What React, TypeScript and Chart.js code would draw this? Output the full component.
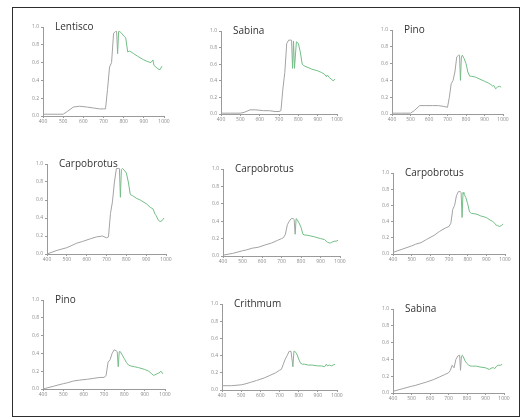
import React, { useEffect, useRef } from "react";
import { Chart, registerables } from "chart.js";

Chart.register(...registerables);

const WAVELENGTHS = [400, 450, 500, 520, 550, 580, 620, 650, 680, 700, 710, 720, 730, 740, 750, 760, 765, 770, 775, 780, 790, 800, 810, 820, 830, 850, 870, 900, 920, 935, 945, 950, 960, 970, 980, 990];

const X_TICKS = [400, 500, 600, 700, 800, 900, 1000];
const Y_TICKS = [0.0, 0.2, 0.4, 0.6, 0.8, 1.0];

const TITLES = ["Lentisco", "Sabina", "Pino", "Carpobrotus", "Carpobrotus", "Carpobrotus", "Pino", "Crithmum", "Sabina"];

const LENTISCO = [0.02, 0.02, 0.02, 0.05, 0.1, 0.11, 0.1, 0.09, 0.08, 0.08, 0.08, 0.3, 0.55, 0.6, 0.93, 0.95, 0.95, 0.7, 0.95, 0.95, 0.93, 0.9, 0.88, 0.72, 0.73, 0.7, 0.67, 0.63, 0.61, 0.6, 0.63, 0.57, 0.55, 0.53, 0.52, 0.56];
const SABINA_1 = [0.01, 0.01, 0.01, 0.02, 0.05, 0.05, 0.04, 0.04, 0.03, 0.03, 0.04, 0.3, 0.5, 0.85, 0.89, 0.89, 0.89, 0.55, 0.88, 0.55, 0.87, 0.85, 0.75, 0.6, 0.58, 0.56, 0.54, 0.52, 0.5, 0.48, 0.45, 0.47, 0.44, 0.42, 0.4, 0.42];
const PINO_1 = [0.01, 0.01, 0.01, 0.04, 0.1, 0.1, 0.1, 0.1, 0.09, 0.08, 0.2, 0.36, 0.4, 0.5, 0.68, 0.7, 0.7, 0.4, 0.68, 0.7, 0.66, 0.6, 0.5, 0.45, 0.45, 0.44, 0.42, 0.39, 0.37, 0.35, 0.33, 0.34, 0.3, 0.32, 0.33, 0.32];
const CARPOBROTUS_1 = [0.0, 0.04, 0.07, 0.09, 0.12, 0.14, 0.17, 0.19, 0.2, 0.18, 0.19, 0.45, 0.58, 0.8, 0.95, 0.95, 0.95, 0.63, 0.94, 0.95, 0.93, 0.9, 0.8, 0.66, 0.65, 0.62, 0.6, 0.56, 0.52, 0.5, 0.44, 0.43, 0.38, 0.36, 0.37, 0.4];
const CARPOBROTUS_2 = [0.01, 0.03, 0.06, 0.07, 0.09, 0.1, 0.13, 0.15, 0.18, 0.2, 0.21, 0.25, 0.36, 0.4, 0.43, 0.43, 0.42, 0.25, 0.43, 0.42, 0.38, 0.33, 0.25, 0.24, 0.24, 0.23, 0.22, 0.2, 0.19, 0.16, 0.15, 0.15, 0.16, 0.17, 0.17, 0.18];
const CARPOBROTUS_3 = [0.02, 0.06, 0.1, 0.12, 0.14, 0.18, 0.23, 0.28, 0.32, 0.34, 0.38, 0.55, 0.6, 0.72, 0.77, 0.77, 0.76, 0.45, 0.76, 0.74, 0.7, 0.62, 0.52, 0.5, 0.5, 0.49, 0.47, 0.45, 0.42, 0.4, 0.38, 0.36, 0.35, 0.34, 0.35, 0.37];
const PINO_2 = [0.0, 0.03, 0.06, 0.07, 0.09, 0.1, 0.11, 0.12, 0.13, 0.13, 0.15, 0.3, 0.33, 0.4, 0.44, 0.43, 0.42, 0.25, 0.42, 0.42, 0.38, 0.34, 0.3, 0.27, 0.26, 0.25, 0.24, 0.22, 0.2, 0.17, 0.15, 0.16, 0.17, 0.18, 0.2, 0.17];
const CRITHMUM = [0.05, 0.05, 0.06, 0.07, 0.09, 0.11, 0.14, 0.17, 0.2, 0.23, 0.24, 0.3, 0.36, 0.4, 0.45, 0.45, 0.45, 0.27, 0.45, 0.45, 0.42, 0.36, 0.31, 0.3, 0.3, 0.29, 0.29, 0.28, 0.28, 0.27, 0.3, 0.28, 0.29, 0.28, 0.29, 0.3];
const SABINA_2 = [0.02, 0.05, 0.08, 0.09, 0.11, 0.13, 0.16, 0.19, 0.22, 0.24, 0.27, 0.33, 0.3, 0.4, 0.44, 0.45, 0.27, 0.44, 0.45, 0.43, 0.38, 0.35, 0.33, 0.32, 0.32, 0.32, 0.31, 0.3, 0.28, 0.3, 0.3, 0.29, 0.32, 0.33, 0.33, 0.34];

const SERIES = [LENTISCO, SABINA_1, PINO_1, CARPOBROTUS_1, CARPOBROTUS_2, CARPOBROTUS_3, PINO_2, CRITHMUM, SABINA_2];

// plot-area placement of each panel: [axis left, axis right, top (1.0), bottom (0.0)]
const PLACES = [
  [43, 164, 27, 116],
  [221, 337, 31, 114],
  [392, 503, 30, 114],
  [47, 166, 164, 254],
  [223, 340, 169, 256],
  [393, 505, 173, 254],
  [43, 165, 300, 389],
  [222, 337, 304, 390],
  [393, 504, 309, 393],
];

const PAD_L = 30;
const PAD_R = 12;
const PAD_T = 14;
const PAD_B = 18;

const GRAY = "#a3a3a3";
const GREEN = "#72bf86";
const AXIS = "#9a9a9a";

function Panel({ index }: { index: number }) {
  const ref = useRef<HTMLCanvasElement | null>(null);
  const [l, r, t, b] = PLACES[index];
  const w = r - l + PAD_L + PAD_R;
  const h = b - t + PAD_T + PAD_B;

  useEffect(() => {
    if (!ref.current) return;
    const title = TITLES[index];
    const values = SERIES[index];
    const titlePlugin = {
      id: "panelTitle",
      afterDraw(chart: any) {
        const ctx = chart.ctx;
        ctx.save();
        ctx.font = "10px 'Open Sans'";
        ctx.fillStyle = "#333333";
        ctx.textBaseline = "middle";
        ctx.textAlign = "left";
        ctx.fillText(title, chart.chartArea.left + 12, chart.chartArea.top + 0.5);
        ctx.restore();
      },
    };
    const chart = new Chart(ref.current, {
      type: "line",
      data: {
        datasets: [
          {
            data: WAVELENGTHS.map((x, i) => ({ x, y: values[i] })),
            borderColor: GRAY,
            borderWidth: 1,
            pointRadius: 0,
            tension: 0,
            segment: {
              borderColor: (c: any) => (c.p0.parsed.x >= 770 ? GREEN : GRAY),
            },
          },
        ],
      },
      options: {
        animation: false,
        responsive: false,
        maintainAspectRatio: false,
        events: [],
        layout: {
          autoPadding: false,
          padding: { left: 0, right: PAD_R, top: PAD_T, bottom: 0 },
        },
        plugins: { legend: { display: false }, tooltip: { enabled: false }, title: { display: false } },
        scales: {
          x: {
            type: "linear",
            min: 400,
            max: 1000,
            afterFit: (s: any) => {
              s.height = PAD_B;
            },
            afterBuildTicks: (s: any) => {
              s.ticks = X_TICKS.map((v) => ({ value: v }));
            },
            ticks: {
              color: "#8a8a8a",
              font: { size: 5, family: "'Open Sans'" },
              padding: 1,
              maxRotation: 0,
              autoSkip: false,
              callback: (v: any) => String(v),
            },
            grid: { display: true, drawOnChartArea: false, drawTicks: true, tickLength: 2, color: AXIS },
            border: { display: true, color: AXIS, width: 1 },
          },
          y: {
            type: "linear",
            min: 0,
            max: 1,
            afterFit: (s: any) => {
              s.width = PAD_L;
            },
            afterBuildTicks: (s: any) => {
              s.ticks = Y_TICKS.map((v) => ({ value: v }));
            },
            ticks: {
              color: "#8a8a8a",
              font: { size: 5, family: "'Open Sans'" },
              padding: 2,
              autoSkip: false,
              callback: (v: any) => Number(v).toFixed(1),
            },
            grid: { display: true, drawOnChartArea: false, drawTicks: true, tickLength: 2, color: AXIS },
            border: { display: true, color: AXIS, width: 1 },
          },
        },
      },
      plugins: [titlePlugin],
    } as any);
    return () => chart.destroy();
  }, [index]);

  return (
    <canvas
      ref={ref}
      width={w}
      height={h}
      style={{ position: "absolute", left: l - PAD_L, top: t - PAD_T, width: w, height: h }}
    />
  );
}

export default function App() {
  return (
    <div
      style={{
        position: "fixed",
        left: 0,
        top: 0,
        width: 524,
        height: 420,
        background: "#ffffff",
        overflow: "hidden",
      }}
    >
      <div
        style={{
          position: "absolute",
          left: 12,
          top: 7,
          width: 508,
          height: 410,
          border: "1.5px solid #2e2e2e",
          boxSizing: "border-box",
        }}
      />
      {TITLES.map((_, i) => (
        <Panel key={i} index={i} />
      ))}
    </div>
  );
}
